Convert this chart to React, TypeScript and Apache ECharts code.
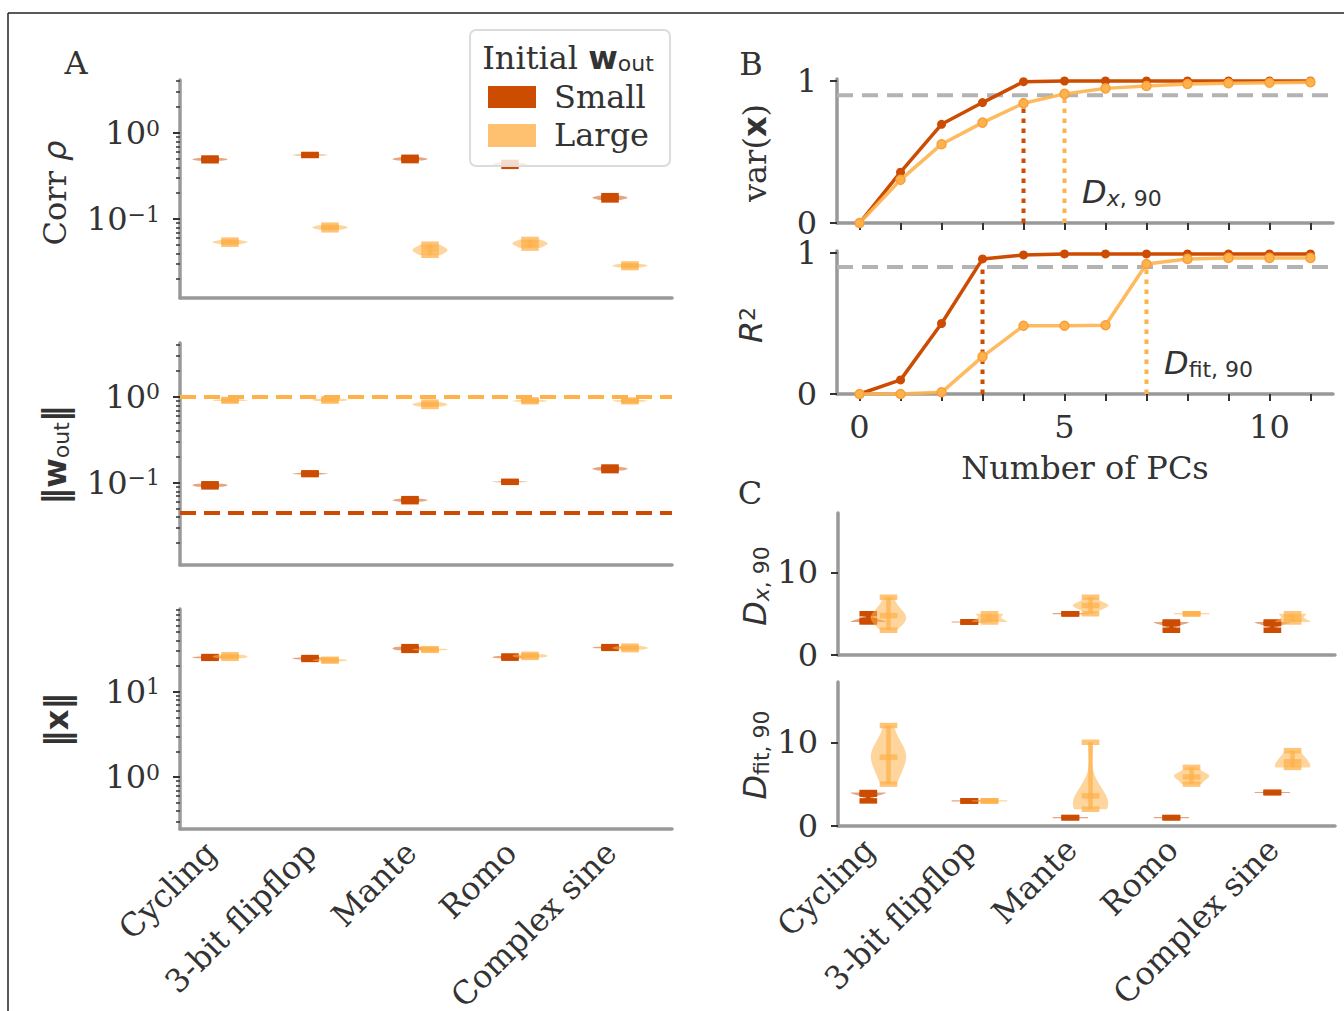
import React, { useEffect, useRef } from 'react';
import * as echarts from 'echarts';

// ---- data -------------------------------------------------------------
const tasks = ['Cycling', '3-bit flipflop', 'Mante', 'Romo', 'Complex sine'];
const groupNames = ['Small', 'Large'];

// Corr rho per task, networks with small / large initial output weights
const corrSmall = [
  [0.476, 0.486, 0.494, 0.502, 0.512],
  [0.548, 0.552, 0.555, 0.559, 0.563],
  [0.478, 0.49, 0.499, 0.508, 0.522],
  [0.41, 0.424, 0.432, 0.44, 0.455],
  [0.167, 0.173, 0.177, 0.181, 0.187],
];
const corrLarge = [
  [0.051, 0.053, 0.054, 0.055, 0.057],
  [0.075, 0.078, 0.08, 0.082, 0.085],
  [0.038, 0.042, 0.044, 0.046, 0.051],
  [0.046, 0.05, 0.052, 0.054, 0.058],
  [0.0273, 0.0282, 0.0287, 0.0293, 0.0301],
];

// ||w_out|| after training
const wNormSmall = [
  [0.09, 0.092, 0.094, 0.096, 0.0977],
  [0.125, 0.127, 0.128, 0.129, 0.131],
  [0.0605, 0.062, 0.063, 0.064, 0.0656],
  [0.1016, 0.1025, 0.103, 0.1035, 0.1044],
  [0.139, 0.143, 0.146, 0.149, 0.153],
];
const wNormLarge = [
  [0.894, 0.905, 0.914, 0.924, 0.935],
  [0.895, 0.91, 0.925, 0.94, 0.955],
  [0.775, 0.8, 0.82, 0.84, 0.87],
  [0.88, 0.89, 0.9, 0.91, 0.925],
  [0.88, 0.89, 0.9, 0.91, 0.92],
];
// initial ||w_out|| for small / large initialisation
const wNormInit = [0.0447, 1];

// ||x||
const xNormSmall = [
  [24.6, 24.9, 25.2, 25.5, 25.8],
  [23.9, 24.2, 24.5, 24.8, 25.1],
  [30.5, 31.3, 32.1, 32.9, 33.7],
  [24.7, 25.0, 25.4, 25.8, 26.2],
  [32.2, 32.5, 32.9, 33.3, 33.7],
];
const xNormLarge = [
  [24.6, 25.2, 25.8, 26.4, 27.1],
  [22.8, 23.1, 23.4, 23.7, 24.0],
  [30.5, 30.8, 31.2, 31.6, 31.9],
  [25.2, 25.7, 26.3, 26.9, 27.4],
  [31.1, 31.8, 32.6, 33.4, 34.2],
];

// cumulative explained variance / fit quality vs number of PCs (example network)
const pcs = [0, 1, 2, 3, 4, 5, 6, 7, 8, 9, 10, 11];
const varSmall = [0, 0.358, 0.695, 0.848, 0.995, 1, 1, 1, 1, 1, 1, 1];
const varLarge = [0, 0.304, 0.555, 0.707, 0.843, 0.909, 0.948, 0.965, 0.979, 0.984, 0.988, 0.991];
const r2Small = [0, 0.1, 0.5, 0.958, 0.986, 0.993, 0.993, 0.993, 0.993, 0.993, 0.993, 0.993];
const r2Large = [0, 0, 0.012, 0.265, 0.484, 0.484, 0.487, 0.922, 0.958, 0.965, 0.965, 0.965];
const threshold = 0.9;
const dVar90 = [4, 5]; // small, large
const dFit90 = [3, 7];

// D_x,90 and D_fit,90 across networks
const dxSmall = [[4, 4, 4, 4, 5], [4, 4, 4, 4, 4], [5, 5, 5, 5, 5], [3, 4, 4, 4, 4], [3, 4, 4, 4, 4]];
const dxLarge = [
  [3, 4, 4, 4, 5, 5, 5, 6, 7],
  [4, 4, 4, 4, 5, 5, 5],
  [5, 6, 6, 6, 6, 7],
  [5, 5, 5, 5, 5],
  [4, 4, 4, 4, 5, 5, 5],
];
const dfitSmall = [[3, 4, 4, 4, 4], [3, 3, 3, 3, 3], [1, 1, 1, 1, 1], [1, 1, 1, 1, 1], [4, 4, 4, 4, 4]];
const dfitLarge = [
  [5, 6, 7, 8, 8, 9, 9, 10, 12],
  [3, 3, 3, 3, 3],
  [2, 2, 2, 2, 3, 3, 3, 4, 5, 10],
  [5, 5, 6, 6, 6, 6, 7],
  [7, 7, 7, 8, 8, 9],
];

// ---- styling ----------------------------------------------------------
const SMALL = '#cc4c02';
const LARGE = '#feb24c';
const INK = '#333333';
const SPINE = '#999999';
const SERIF = "'DejaVu Serif', serif";
const SANS = "'DejaVu Sans', sans-serif";
const FS = 32;
const FS_SUB = 22;
const VIOLIN_WIDTH = 0.35;
const OFFSET = 0.1;
const CAT_MIN = -0.4;
const CAT_MAX = 4.52;
const PC_MIN = -0.55;
const PC_MAX = 11.55;

const average = (s: number[]) => s.reduce((a, b) => a + b, 0) / s.length;

// Gaussian KDE with Scott's bandwidth, evaluated between min and max
function kdeProfile(s: number[], count = 100): number[][] | null {
  const n = s.length;
  const lo = Math.min(...s);
  const hi = Math.max(...s);
  const mu = average(s);
  const sd = Math.sqrt(s.reduce((a, v) => a + (v - mu) * (v - mu), 0) / (n - 1));
  if (!(sd > 0) || hi === lo) return null;
  const bw = sd * Math.pow(n, -0.2);
  const out: number[][] = [];
  for (let i = 0; i < count; i++) {
    const y = lo + ((hi - lo) * i) / (count - 1);
    let d = 0;
    for (const v of s) d += Math.exp(-0.5 * ((y - v) / bw) ** 2);
    out.push([y, d]);
  }
  const m = Math.max(...out.map((p) => p[1]));
  return out.map(([y, d]) => [y, d / m]);
}

const seg = (a: number[], b: number[], color: string, width: number, opacity: number) => ({
  type: 'line',
  shape: { x1: a[0], y1: a[1], x2: b[0], y2: b[1] },
  style: { stroke: color, lineWidth: width, opacity },
});

type Look = { color: string; body: number; line: number };
const smallLook: Look = { color: SMALL, body: 0.5, line: 1 };
const largeLook: Look = { color: LARGE, body: 0.55, line: 0.75 };

function violinSeries(list: number[][], offset: number, look: Look, xAxisIndex: number, yAxisIndex: number, z: number, name: string) {
  const half = VIOLIN_WIDTH / 2;
  const cap = VIOLIN_WIDTH / 4;
  return {
    type: 'custom',
    name,
    xAxisIndex,
    yAxisIndex,
    z,
    silent: true,
    data: list.map((s, i) => [i + offset, average(s)]),
    renderItem: (params: any, api: any) => {
      const s = list[params.dataIndex];
      const pos = params.dataIndex + offset;
      const lo = Math.min(...s);
      const hi = Math.max(...s);
      const mu = average(s);
      const kids: any[] = [];
      const prof = kdeProfile(s);
      if (prof) {
        const left = prof.map(([y, d]) => api.coord([pos - half * d, y]));
        const right = prof.slice().reverse().map(([y, d]) => api.coord([pos + half * d, y]));
        kids.push({ type: 'polygon', shape: { points: left.concat(right) }, style: { fill: look.color, opacity: look.body } });
      } else {
        kids.push(seg(api.coord([pos - half, lo]), api.coord([pos + half, lo]), look.color, 1.2, look.body));
      }
      if (hi > lo) kids.push(seg(api.coord([pos, lo]), api.coord([pos, hi]), look.color, 4.5, look.line));
      for (const v of [lo, hi, mu]) {
        kids.push(seg(api.coord([pos - cap, v]), api.coord([pos + cap, v]), look.color, 5.5, look.line));
      }
      return { type: 'group', children: kids };
    },
  };
}

const spine = { show: true, onZero: false, lineStyle: { color: SPINE, width: 3.5 } };
const tickStyle = { color: INK, width: 2 };
const tickFont = { fontFamily: SERIF, fontSize: FS, color: INK, lineHeight: 30 };

const powLabel = (v: number) => {
  const e = Math.round(Math.log10(v));
  return '{b|10}{s|' + (e < 0 ? '\u2212' + -e : String(e)) + '}';
};

function logAxes(grid: number, min: number, max: number) {
  const majors: number[] = [];
  const minors: number[] = [];
  for (let e = Math.floor(Math.log10(min)); e <= Math.ceil(Math.log10(max)); e++) {
    const base = Math.pow(10, e);
    if (base >= min && base <= max) majors.push(base);
    for (let k = 2; k <= 9; k++) {
      const v = Number((k * base).toPrecision(6));
      if (v >= min && v <= max) minors.push(v);
    }
  }
  const common = { type: 'log', logBase: 10, gridIndex: grid, position: 'left', offset: 0, min, max, splitLine: { show: false } };
  return [
    {
      ...common,
      axisLine: spine,
      axisTick: { show: true, customValues: majors, length: 7, lineStyle: tickStyle },
      axisLabel: {
        show: true,
        customValues: majors,
        formatter: powLabel,
        margin: 20,
        rich: {
          b: { fontFamily: SERIF, fontSize: FS, color: INK },
          s: { fontFamily: SERIF, fontSize: FS_SUB, color: INK, verticalAlign: 'top' },
        },
      },
    },
    {
      ...common,
      axisLine: { show: false, onZero: false },
      axisTick: { show: true, customValues: minors, length: 4, lineStyle: { color: INK, width: 1.5 } },
      axisLabel: { show: false },
    },
  ];
}

function catAxis(grid: number, labels: boolean) {
  return {
    type: 'value',
    gridIndex: grid,
    min: CAT_MIN,
    max: CAT_MAX,
    axisLine: spine,
    axisTick: { show: false },
    splitLine: { show: false },
    axisLabel: labels
      ? {
          show: true,
          customValues: tasks.map((_, i) => i),
          formatter: (v: number) => tasks[Math.round(v)],
          rotate: 45,
          margin: 9,
          padding: [0, 13, 0, 0],
          ...tickFont,
        }
      : { show: false },
  };
}

function pcAxis(grid: number, labels: boolean) {
  return {
    type: 'value',
    gridIndex: grid,
    min: PC_MIN,
    max: PC_MAX,
    axisLine: spine,
    axisTick: { show: true, customValues: pcs, length: 7, lineStyle: tickStyle },
    splitLine: { show: false },
    axisLabel: labels ? { show: true, customValues: [0, 5, 10], margin: 18, ...tickFont } : { show: false },
  };
}

function linAxis(grid: number, max: number, ticks: number[]) {
  return {
    type: 'value',
    gridIndex: grid,
    min: 0,
    max,
    axisLine: spine,
    axisTick: { show: true, customValues: ticks, length: 7, lineStyle: tickStyle },
    splitLine: { show: false },
    axisLabel: { show: true, customValues: ticks, margin: 20, ...tickFont, lineHeight: 22 },
  };
}

function hLine(xi: number, yi: number, x0: number, x1: number, y: number, color: string, width: number, dash: number[], z: number) {
  return {
    type: 'line',
    xAxisIndex: xi,
    yAxisIndex: yi,
    data: [[x0, y], [x1, y]],
    symbol: 'none',
    silent: true,
    z,
    lineStyle: { color, width, type: dash },
  };
}

function vLine(xi: number, yi: number, x: number, y: number, color: string, z: number) {
  return {
    type: 'line',
    xAxisIndex: xi,
    yAxisIndex: yi,
    data: [[x, 0], [x, y]],
    symbol: 'none',
    silent: true,
    z,
    lineStyle: { color, width: 4, type: [4.5, 5.5] },
  };
}

function curve(xi: number, yi: number, values: number[], small: boolean) {
  return {
    type: 'line',
    xAxisIndex: xi,
    yAxisIndex: yi,
    name: small ? groupNames[0] : groupNames[1],
    data: pcs.map((p, i) => [p, values[i]]),
    symbol: 'circle',
    symbolSize: 9,
    showSymbol: true,
    silent: true,
    z: small ? 3 : 4,
    lineStyle: { color: small ? SMALL : LARGE, width: 3.5, opacity: small ? 1 : 0.9 },
    itemStyle: small ? { color: SMALL } : { color: LARGE, borderColor: '#f7a03c', borderWidth: 1.5 },
  };
}

// ---- text elements ------------------------------------------------------
const T = (x: number, y: number, text: string, rich: any, rotation = 0, align = 'center', z = 60) => ({
  type: 'text',
  x,
  y,
  rotation,
  z,
  silent: true,
  style: { text, rich, align, verticalAlign: 'middle', fill: INK, fontFamily: SERIF, fontSize: FS },
});

const R = {
  serif: { fontFamily: SERIF, fontSize: FS, fill: INK },
  ital: { fontFamily: SANS, fontSize: FS, fontStyle: 'italic', fill: INK, lineHeight: FS, padding: [0, 0, 3, 0] },
  bold: { fontFamily: SANS, fontSize: FS, fontWeight: 'bold', fill: INK },
  bar: { fontFamily: SANS, fontSize: FS + 2, fontWeight: 'bold', fill: INK },
  sub: { fontFamily: SANS, fontSize: FS_SUB, fill: INK, verticalAlign: 'bottom', lineHeight: FS_SUB },
  subi: { fontFamily: SANS, fontSize: FS_SUB, fontStyle: 'italic', fill: INK, verticalAlign: 'bottom', lineHeight: FS_SUB },
  sup: { fontFamily: SANS, fontSize: FS_SUB, fill: INK, verticalAlign: 'top', lineHeight: FS_SUB },
  rho: { fontFamily: SANS, fontSize: FS, fontStyle: 'italic', fill: INK },
};

const UP = Math.PI / 2;

function buildOption() {
  const grids = [
    { left: 180, top: 80, width: 492, height: 218 },
    { left: 180, top: 343, width: 492, height: 222 },
    { left: 180, top: 609, width: 492, height: 220 },
    { left: 837, top: 79, width: 496, height: 144 },
    { left: 837, top: 251, width: 496, height: 143 },
    { left: 838, top: 513, width: 497, height: 142 },
    { left: 838, top: 682, width: 497, height: 144 },
  ].map((g) => ({ ...g, outerBoundsMode: 'none', containLabel: false }));

  const xAxis = [catAxis(0, false), catAxis(1, false), catAxis(2, true), pcAxis(3, false), pcAxis(4, true), catAxis(5, false), catAxis(6, true)];

  const yAxis = [
    ...logAxes(0, 0.0121, 4.13),
    ...logAxes(1, 0.0111, 4.24),
    ...logAxes(2, 0.247, 93),
    linAxis(3, 1.014, [0, 1]),
    linAxis(4, 1.014, [0, 1]),
    linAxis(5, 17.2, [0, 10]),
    linAxis(6, 17.2, [0, 10]),
  ];

  const series: any[] = [
    violinSeries(corrSmall, -OFFSET, smallLook, 0, 0, 5, 'Small'),
    violinSeries(corrLarge, OFFSET, largeLook, 0, 0, 6, 'Large'),
    violinSeries(wNormSmall, -OFFSET, smallLook, 1, 2, 5, 'Small'),
    violinSeries(wNormLarge, OFFSET, largeLook, 1, 2, 6, 'Large'),
    hLine(1, 2, CAT_MIN, CAT_MAX, wNormInit[0], SMALL, 4, [16, 8], 8),
    hLine(1, 2, CAT_MIN, CAT_MAX, wNormInit[1], LARGE, 4, [16, 8], 8),
    violinSeries(xNormSmall, -OFFSET, smallLook, 2, 4, 5, 'Small'),
    violinSeries(xNormLarge, OFFSET, largeLook, 2, 4, 6, 'Large'),

    hLine(3, 6, PC_MIN, PC_MAX, threshold, '#b3b3b3', 4, [16, 9], 1),
    vLine(3, 6, dVar90[0], threshold, SMALL, 2),
    vLine(3, 6, dVar90[1], threshold, LARGE, 2),
    curve(3, 6, varSmall, true),
    curve(3, 6, varLarge, false),

    hLine(4, 7, PC_MIN, PC_MAX, threshold, '#b3b3b3', 4, [16, 9], 1),
    vLine(4, 7, dFit90[0], threshold, SMALL, 2),
    vLine(4, 7, dFit90[1], threshold, LARGE, 2),
    curve(4, 7, r2Small, true),
    curve(4, 7, r2Large, false),

    violinSeries(dxSmall, -OFFSET, smallLook, 5, 8, 5, 'Small'),
    violinSeries(dxLarge, OFFSET, largeLook, 5, 8, 6, 'Large'),
    violinSeries(dfitSmall, -OFFSET, smallLook, 6, 9, 5, 'Small'),
    violinSeries(dfitLarge, OFFSET, largeLook, 6, 9, 6, 'Large'),
  ];

  const graphic: any[] = [
    // figure frame
    { type: 'line', silent: true, z: 1, shape: { x1: 8, y1: 13, x2: 1344, y2: 13 }, style: { stroke: '#222', lineWidth: 1.5 } },
    { type: 'line', silent: true, z: 1, shape: { x1: 8, y1: 13, x2: 8, y2: 1011 }, style: { stroke: '#222', lineWidth: 1.5 } },

    // panel letters
    T(76, 63, 'A', null),
    T(751, 64, 'B', null),
    T(750, 493, 'C', null),

    // axis titles
    T(55, 193, '{s|Corr }{r|\u03c1}', { s: R.serif, r: R.rho }, UP),
    T(55, 455, '{b|\u2016}{w|w}{o|out}{b|\u2016}', { b: R.bar, w: R.bold, o: R.sub }, UP),
    T(57, 720, '{b|\u2016}{w|x}{b|\u2016}', { b: R.bar, w: R.bold }, UP),
    T(755, 153, '{s|var(}{w|x}{s|)}', { s: R.serif, w: R.bold }, UP),
    T(752, 325, '{r|R}{p|2}', { r: R.ital, p: R.sup }, UP),
    T(756, 586, '{d|D}{x|x}{n|, 90}', { d: R.ital, x: R.subi, n: R.sub }, UP),
    T(756, 755, '{d|D}{n|fit, 90}', { d: R.ital, n: R.sub }, UP),
    T(1085, 468, 'Number of PCs', null),

    // D_90 annotations
    T(1082, 193, '{d|D}{x|x}{n|, 90}', { d: R.ital, x: R.subi, n: R.sub }, 0, 'left'),
    T(1164, 364, '{d|D}{n|fit, 90}', { d: R.ital, n: R.sub }, 0, 'left'),

    // legend
    {
      type: 'rect',
      silent: true,
      z: 90,
      shape: { x: 470, y: 30, width: 200, height: 136, r: 6 },
      style: { fill: 'rgba(255,255,255,0.8)', stroke: '#dcdcdc', lineWidth: 2 },
    },
    T(568, 58, '{s|Initial }{w|w}{o|out}', { s: R.serif, w: R.bold, o: R.sub }, 0, 'center', 91),
    { type: 'rect', silent: true, z: 91, shape: { x: 488, y: 86, width: 48, height: 22 }, style: { fill: SMALL } },
    { type: 'rect', silent: true, z: 91, shape: { x: 488, y: 124, width: 48, height: 23 }, style: { fill: LARGE, opacity: 0.8 } },
    T(554, 97, groupNames[0], null, 0, 'left', 91),
    T(554, 135, groupNames[1], null, 0, 'left', 91),
  ];

  return { animation: false, backgroundColor: '#ffffff', grid: grids, xAxis, yAxis, series, graphic };
}

export default function App() {
  const ref = useRef<HTMLDivElement>(null);
  useEffect(() => {
    const chart = echarts.init(ref.current as HTMLDivElement, null, { renderer: 'svg' });
    chart.setOption(buildOption() as any);
    return () => chart.dispose();
  }, []);
  return <div ref={ref} style={{ position: 'absolute', left: 0, top: 0, width: 1344, height: 1011, background: '#fff' }} />;
}
